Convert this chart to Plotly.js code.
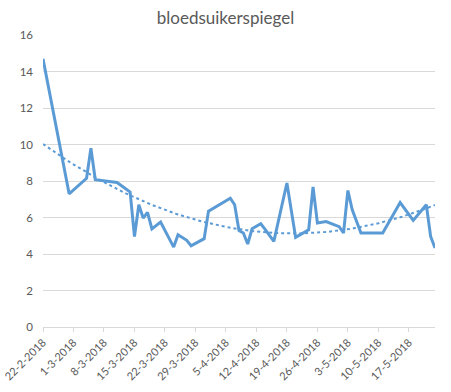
<!DOCTYPE html>
<html>
<head>
<meta charset="utf-8">
<script src="https://cdn.plot.ly/plotly-3.0.1.min.js"></script>
<style>html,body{margin:0;padding:0;background:#fff}#chart{width:451px;height:392px}</style>
</head>
<body>
<div id="chart"></div>
<script>
const dates = ['2018-02-22','2018-02-28','2018-03-04','2018-03-05','2018-03-06','2018-03-11','2018-03-14','2018-03-15','2018-03-16','2018-03-17','2018-03-18','2018-03-19','2018-03-21','2018-03-24','2018-03-25','2018-03-27','2018-03-28','2018-03-31','2018-04-01','2018-04-06','2018-04-07','2018-04-08','2018-04-09','2018-04-10','2018-04-11','2018-04-13','2018-04-14','2018-04-16','2018-04-19','2018-04-21','2018-04-24','2018-04-25','2018-04-26','2018-04-28','2018-05-01','2018-05-02','2018-05-03','2018-05-04','2018-05-06','2018-05-11','2018-05-15','2018-05-18','2018-05-21','2018-05-22','2018-05-23'];
const values = [14.7,7.3,8.15,9.8,8.07,7.92,7.4,4.96,6.7,5.97,6.28,5.38,5.75,4.38,5.05,4.75,4.45,4.84,6.35,7.06,6.7,5.29,5.15,4.55,5.38,5.66,5.35,4.69,7.89,4.91,5.33,7.67,5.7,5.78,5.5,5.15,7.48,6.42,5.15,5.15,6.82,5.84,6.7,4.96,4.33];
const title = 'bloedsuikerspiegel';
const xStart = '2018-02-22';
const xEnd = '2018-05-23';

// Quadratic (order 2 polynomial) trendline, least squares on the data
const DAY = 86400000;
const t0 = Date.parse(xStart);
const xs = dates.map(d => (Date.parse(d) - t0) / DAY);
function polyfit2(x, y) {
  let S = [0,0,0,0,0], T = [0,0,0];
  for (let i = 0; i < x.length; i++) {
    let p = 1;
    for (let k = 0; k < 5; k++) { S[k] += p; if (k < 3) T[k] += p * y[i]; p *= x[i]; }
  }
  const A = [[S[0],S[1],S[2],T[0]],[S[1],S[2],S[3],T[1]],[S[2],S[3],S[4],T[2]]];
  for (let i = 0; i < 3; i++) {
    for (let j = i + 1; j < 3; j++) {
      const f = A[j][i] / A[i][i];
      for (let k = i; k < 4; k++) A[j][k] -= f * A[i][k];
    }
  }
  const c = [0,0,0];
  for (let i = 2; i >= 0; i--) {
    let s = A[i][3];
    for (let k = i + 1; k < 3; k++) s -= A[i][k] * c[k];
    c[i] = s / A[i][i];
  }
  return c;
}
const coef = polyfit2(xs, values);
const trendX = [], trendY = [];
const xmax = xs[xs.length - 1];
for (let d = 0; d <= xmax; d += 0.5) {
  trendX.push(new Date(t0 + d * DAY).toISOString().slice(0, 19));
  trendY.push(coef[0] + coef[1] * d + coef[2] * d * d);
}

const traces = [
  {x: dates, y: values, type: 'scatter', mode: 'lines',
   line: {color: '#5B9BD5', width: 3, shape: 'linear'}, hoverinfo: 'skip'},
  {x: trendX, y: trendY, type: 'scatter', mode: 'lines',
   line: {color: '#5B9BD5', width: 2, dash: 'dot'}, hoverinfo: 'skip'}
];

const layout = {
  width: 451, height: 392,
  margin: {l: 43, r: 16, t: 35, b: 65},
  paper_bgcolor: '#fff', plot_bgcolor: '#fff',
  showlegend: false,
  font: {family: 'Lato, "Liberation Sans", sans-serif', color: '#595959', size: 11},
  title: {text: title, font: {size: 17, color: '#595959', family: 'Lato, sans-serif'},
          xref: 'container', x: 0.5, xanchor: 'center', yref: 'container', y: 1 - 18/392, yanchor: 'middle'},
  xaxis: {
    type: 'date', range: [xStart, xEnd],
    tick0: xStart, dtick: 7 * DAY, tickformat: '%-d-%-m-%Y',
    tickangle: -45, ticks: 'outside', ticklen: 4, tickcolor: '#d9d9d9',
    showgrid: false, showline: true, linecolor: '#d9d9d9', linewidth: 1,
    zeroline: false, tickfont: {size: 11, color: '#595959'}
  },
  yaxis: {
    range: [0, 16], dtick: 2, tick0: 0,
    showgrid: true, gridcolor: '#d9d9d9', gridwidth: 1,
    zeroline: false, showline: false, ticks: '',
    ticklabelstandoff: 9,
    tickfont: {size: 11.5, color: '#595959'}
  }
};

Plotly.newPlot('chart', traces, layout, {displayModeBar: false, staticPlot: true});
</script>
</body>
</html>
